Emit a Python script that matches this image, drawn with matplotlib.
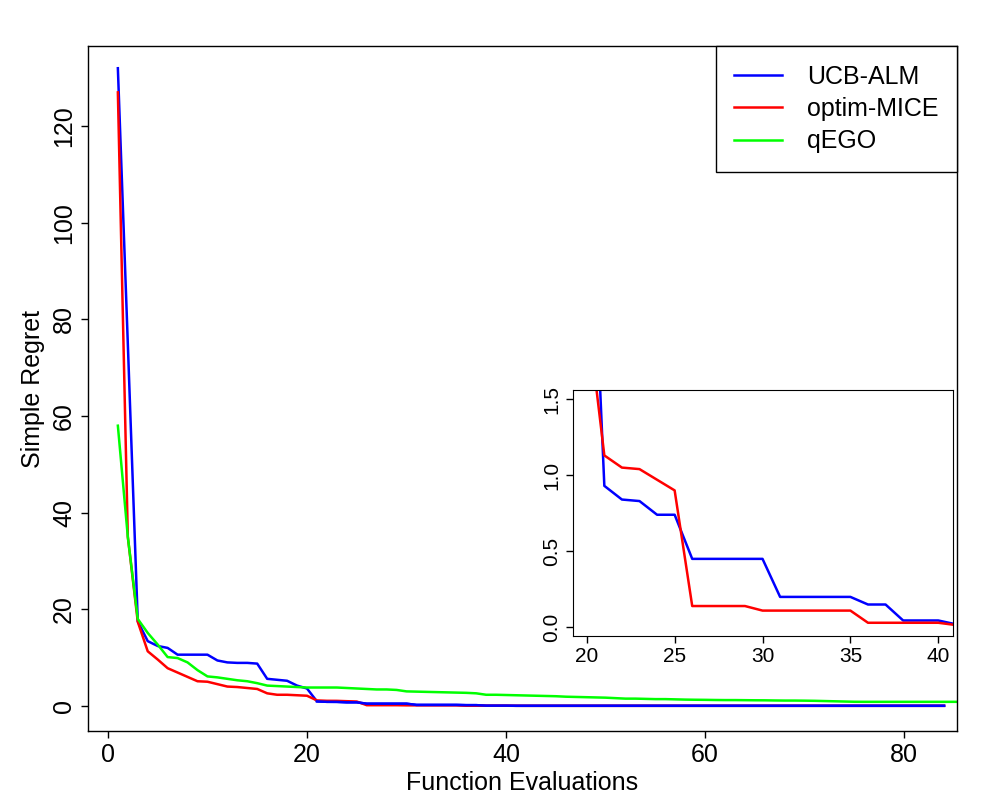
import numpy as np
import matplotlib.pyplot as plt

plt.rcParams['font.family'] = ['Liberation Sans', 'DejaVu Sans']

# simple regret per function evaluation
ucb_alm = [132, 75, 17.5, 13.4, 12.4, 12.0, 10.6, 10.6, 10.6, 10.6,
           9.4, 9.0, 8.9, 8.9, 8.75, 5.6, 5.4, 5.2, 4.2, 3.6,
           0.93, 0.84, 0.83, 0.74, 0.74, 0.45, 0.45, 0.45, 0.45, 0.45,
           0.20, 0.20, 0.20, 0.20, 0.20, 0.15, 0.15, 0.045, 0.045, 0.045,
           0.02, 0.02, 0.02, 0.02, 0.02, 0.02, 0.02, 0.02, 0.02, 0.02,
           0.02, 0.02, 0.02, 0.02, 0.02, 0.02, 0.02, 0.02, 0.02, 0.02,
           0.02, 0.02, 0.02, 0.02, 0.02, 0.02, 0.02, 0.02, 0.02, 0.02,
           0.02, 0.02, 0.02, 0.02, 0.02, 0.02, 0.02, 0.02, 0.02, 0.02,
           0.02, 0.02, 0.02, 0.02]
optim_mice = [127, 35, 17.4, 11.3, 9.6, 7.8, 6.9, 6.0, 5.1, 5.0,
              4.5, 4.0, 3.9, 3.7, 3.5, 2.6, 2.3, 2.3, 2.2, 2.1,
              1.13, 1.05, 1.04, 0.97, 0.90, 0.14, 0.14, 0.14, 0.14, 0.11,
              0.11, 0.11, 0.11, 0.11, 0.11, 0.03, 0.03, 0.03, 0.03, 0.03,
              0.015, 0.01, 0.01, 0.01, 0.01, 0.01, 0.01, 0.01, 0.01, 0.01,
              0.01, 0.01, 0.01, 0.01, 0.01, 0.01, 0.01, 0.01, 0.01, 0.01,
              0.01, 0.01, 0.01, 0.01, 0.01, 0.01, 0.01, 0.01, 0.01, 0.01,
              0.01, 0.01, 0.01, 0.01, 0.01, 0.01, 0.01, 0.01, 0.01, 0.01,
              0.01, 0.01, 0.01, 0.01]
qego = [58, 35, 18, 15.1, 12.7, 10.1, 9.9, 9.0, 7.4, 6.1,
        5.9, 5.6, 5.3, 5.1, 4.7, 4.2, 4.1, 4.0, 3.9, 3.8,
        3.8, 3.8, 3.8, 3.7, 3.6, 3.5, 3.4, 3.4, 3.3, 3.0,
        2.95, 2.9, 2.85, 2.8, 2.75, 2.7, 2.6, 2.3, 2.3, 2.25,
        2.2, 2.15, 2.1, 2.05, 2.0, 1.9, 1.85, 1.8, 1.75, 1.7,
        1.6, 1.5, 1.5, 1.45, 1.4, 1.4, 1.35, 1.3, 1.27, 1.25,
        1.22, 1.2, 1.2, 1.18, 1.16, 1.15, 1.12, 1.1, 1.1, 1.08,
        1.05, 1.0, 0.95, 0.9, 0.85, 0.84, 0.84, 0.84, 0.84, 0.84,
        0.84, 0.84, 0.84, 0.84, 0.84, 0.84]

evals_ucb = np.arange(1, len(ucb_alm) + 1)
evals_mice = np.arange(1, len(optim_mice) + 1)
evals_qego = np.arange(1, len(qego) + 1)

labels = ['UCB-ALM', 'optim-MICE', 'qEGO']
colors = ['#0000FF', '#FF0000', '#00FF00']

fig = plt.figure(figsize=(10, 8), dpi=100)
ax = fig.add_axes([0.088, 0.08625, 0.869, 0.85625])

lw = 1.8
ax.plot(evals_ucb, ucb_alm, color=colors[0], lw=lw, label=labels[0])
ax.plot(evals_mice, optim_mice, color=colors[1], lw=lw, label=labels[1])
ax.plot(evals_qego, qego, color=colors[2], lw=lw, label=labels[2])
# blue on top like the reference
ax.plot(evals_ucb[20:], ucb_alm[20:], color=colors[0], lw=lw)

ax.set_xlim(-2.0, 85.3)
ax.set_ylim(-5.2, 136.6)
ax.set_xticks([0, 20, 40, 60, 80])
ax.set_yticks([0, 20, 40, 60, 80, 100, 120])
ax.tick_params(labelsize=18, length=5, width=1, pad=3.5)
for t in ax.get_yticklabels():
    t.set_rotation(90)
    t.set_va('center')
ax.set_xlabel('Function Evaluations', fontsize=18, labelpad=3)
ax.set_ylabel('Simple Regret', fontsize=18, labelpad=5)
for s in ax.spines.values():
    s.set_linewidth(1)

leg = ax.legend(loc='upper right', bbox_to_anchor=(1, 1), borderaxespad=0,
                fontsize=18, fancybox=False, framealpha=1, edgecolor='black',
                handlelength=1.9, handletextpad=1.0, labelspacing=0.33,
                borderpad=0.75)
leg.get_frame().set_linewidth(1)

# zoomed inset
ins = fig.add_axes([0.5727, 0.205, 0.38, 0.3075])
ins.plot(evals_qego, qego, color=colors[2], lw=lw)
ins.plot(evals_ucb, ucb_alm, color=colors[0], lw=lw)
ins.plot(evals_mice, optim_mice, color=colors[1], lw=lw)
ins.set_xlim(19.2, 40.82)
ins.set_ylim(-0.057, 1.56)
ins.set_xticks([20, 25, 30, 35, 40])
ins.set_yticks([0.0, 0.5, 1.0, 1.5])
ins.set_yticklabels(['0.0', '0.5', '1.0', '1.5'])
ins.tick_params(labelsize=15, length=5, width=1, pad=3)
for t in ins.get_yticklabels():
    t.set_rotation(90)
    t.set_va('center')

fig.savefig('out.png', dpi=100)
